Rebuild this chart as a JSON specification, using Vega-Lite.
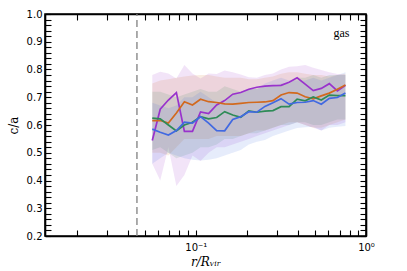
{
  "$schema": "https://vega.github.io/schema/vega-lite/v6.json",
  "width": 321,
  "height": 222,
  "autosize": "none",
  "padding": {"left": 45, "top": 14, "right": 41, "bottom": 35},
  "background": "white",
  "config": {
    "view": {"stroke": "#000000", "strokeWidth": 1.6},
    "axis": {
      "grid": false,
      "domainColor": "#000000",
      "domainWidth": 1.6,
      "tickColor": "#000000",
      "tickWidth": 1.1,
      "labelColor": "#000000",
      "labelFont": "DejaVu Sans",
      "labelFontSize": 10,
      "labelOverlap": false,
      "labelFlush": false,
      "titleColor": "#000000",
      "titleFontWeight": "normal"
    }
  },
  "datasets": {
    "prof": [
      {"series": "purple", "r": 0.0555, "v": 0.544, "lo": 0.46, "hi": 0.78},
      {"series": "purple", "r": 0.0618, "v": 0.657, "lo": 0.40, "hi": 0.792},
      {"series": "purple", "r": 0.0690, "v": 0.690, "lo": 0.52, "hi": 0.786},
      {"series": "purple", "r": 0.0769, "v": 0.717, "lo": 0.38, "hi": 0.768},
      {"series": "purple", "r": 0.0857, "v": 0.577, "lo": 0.42, "hi": 0.816},
      {"series": "purple", "r": 0.0956, "v": 0.577, "lo": 0.49, "hi": 0.786},
      {"series": "purple", "r": 0.1066, "v": 0.647, "lo": 0.47, "hi": 0.768},
      {"series": "purple", "r": 0.1189, "v": 0.641, "lo": 0.50, "hi": 0.786},
      {"series": "purple", "r": 0.1326, "v": 0.672, "lo": 0.52, "hi": 0.784},
      {"series": "purple", "r": 0.1478, "v": 0.688, "lo": 0.52, "hi": 0.796},
      {"series": "purple", "r": 0.1648, "v": 0.711, "lo": 0.53, "hi": 0.79},
      {"series": "purple", "r": 0.1837, "v": 0.717, "lo": 0.54, "hi": 0.782},
      {"series": "purple", "r": 0.2049, "v": 0.729, "lo": 0.55, "hi": 0.772},
      {"series": "purple", "r": 0.2284, "v": 0.736, "lo": 0.56, "hi": 0.77},
      {"series": "purple", "r": 0.2547, "v": 0.740, "lo": 0.57, "hi": 0.78},
      {"series": "purple", "r": 0.2840, "v": 0.742, "lo": 0.58, "hi": 0.786},
      {"series": "purple", "r": 0.3167, "v": 0.743, "lo": 0.59, "hi": 0.80},
      {"series": "purple", "r": 0.3532, "v": 0.754, "lo": 0.60, "hi": 0.81},
      {"series": "purple", "r": 0.3938, "v": 0.770, "lo": 0.61, "hi": 0.812},
      {"series": "purple", "r": 0.4391, "v": 0.747, "lo": 0.60, "hi": 0.816},
      {"series": "purple", "r": 0.4898, "v": 0.724, "lo": 0.59, "hi": 0.806},
      {"series": "purple", "r": 0.5461, "v": 0.732, "lo": 0.58, "hi": 0.798},
      {"series": "purple", "r": 0.6089, "v": 0.749, "lo": 0.60, "hi": 0.79},
      {"series": "purple", "r": 0.6790, "v": 0.723, "lo": 0.60, "hi": 0.784},
      {"series": "purple", "r": 0.7571, "v": 0.743, "lo": 0.61, "hi": 0.78},
      {"series": "orange", "r": 0.0555, "v": 0.616, "lo": 0.50, "hi": 0.75},
      {"series": "orange", "r": 0.0618, "v": 0.616, "lo": 0.50, "hi": 0.76},
      {"series": "orange", "r": 0.0690, "v": 0.607, "lo": 0.49, "hi": 0.765},
      {"series": "orange", "r": 0.0769, "v": 0.643, "lo": 0.52, "hi": 0.77},
      {"series": "orange", "r": 0.0857, "v": 0.684, "lo": 0.55, "hi": 0.775},
      {"series": "orange", "r": 0.0956, "v": 0.672, "lo": 0.55, "hi": 0.778},
      {"series": "orange", "r": 0.1066, "v": 0.693, "lo": 0.55, "hi": 0.78},
      {"series": "orange", "r": 0.1189, "v": 0.684, "lo": 0.55, "hi": 0.78},
      {"series": "orange", "r": 0.1326, "v": 0.681, "lo": 0.56, "hi": 0.775},
      {"series": "orange", "r": 0.1478, "v": 0.676, "lo": 0.56, "hi": 0.77},
      {"series": "orange", "r": 0.1648, "v": 0.675, "lo": 0.56, "hi": 0.77},
      {"series": "orange", "r": 0.1837, "v": 0.678, "lo": 0.56, "hi": 0.77},
      {"series": "orange", "r": 0.2049, "v": 0.681, "lo": 0.57, "hi": 0.765},
      {"series": "orange", "r": 0.2284, "v": 0.682, "lo": 0.58, "hi": 0.765},
      {"series": "orange", "r": 0.2547, "v": 0.683, "lo": 0.58, "hi": 0.77},
      {"series": "orange", "r": 0.2840, "v": 0.688, "lo": 0.59, "hi": 0.775},
      {"series": "orange", "r": 0.3167, "v": 0.708, "lo": 0.60, "hi": 0.785},
      {"series": "orange", "r": 0.3532, "v": 0.717, "lo": 0.61, "hi": 0.79},
      {"series": "orange", "r": 0.3938, "v": 0.715, "lo": 0.61, "hi": 0.79},
      {"series": "orange", "r": 0.4391, "v": 0.702, "lo": 0.60, "hi": 0.785},
      {"series": "orange", "r": 0.4898, "v": 0.694, "lo": 0.59, "hi": 0.78},
      {"series": "orange", "r": 0.5461, "v": 0.705, "lo": 0.59, "hi": 0.78},
      {"series": "orange", "r": 0.6089, "v": 0.715, "lo": 0.60, "hi": 0.775},
      {"series": "orange", "r": 0.6790, "v": 0.729, "lo": 0.61, "hi": 0.78},
      {"series": "orange", "r": 0.7571, "v": 0.744, "lo": 0.62, "hi": 0.785},
      {"series": "green", "r": 0.0555, "v": 0.625, "lo": 0.51, "hi": 0.72},
      {"series": "green", "r": 0.0618, "v": 0.622, "lo": 0.52, "hi": 0.72},
      {"series": "green", "r": 0.0690, "v": 0.600, "lo": 0.50, "hi": 0.71},
      {"series": "green", "r": 0.0769, "v": 0.579, "lo": 0.48, "hi": 0.70},
      {"series": "green", "r": 0.0857, "v": 0.600, "lo": 0.49, "hi": 0.71},
      {"series": "green", "r": 0.0956, "v": 0.610, "lo": 0.50, "hi": 0.72},
      {"series": "green", "r": 0.1066, "v": 0.630, "lo": 0.52, "hi": 0.73},
      {"series": "green", "r": 0.1189, "v": 0.622, "lo": 0.52, "hi": 0.72},
      {"series": "green", "r": 0.1326, "v": 0.627, "lo": 0.53, "hi": 0.72},
      {"series": "green", "r": 0.1478, "v": 0.648, "lo": 0.55, "hi": 0.74},
      {"series": "green", "r": 0.1648, "v": 0.636, "lo": 0.55, "hi": 0.73},
      {"series": "green", "r": 0.1837, "v": 0.628, "lo": 0.56, "hi": 0.72},
      {"series": "green", "r": 0.2049, "v": 0.651, "lo": 0.57, "hi": 0.73},
      {"series": "green", "r": 0.2284, "v": 0.646, "lo": 0.57, "hi": 0.73},
      {"series": "green", "r": 0.2547, "v": 0.650, "lo": 0.58, "hi": 0.74},
      {"series": "green", "r": 0.2840, "v": 0.652, "lo": 0.59, "hi": 0.74},
      {"series": "green", "r": 0.3167, "v": 0.666, "lo": 0.60, "hi": 0.75},
      {"series": "green", "r": 0.3532, "v": 0.666, "lo": 0.60, "hi": 0.75},
      {"series": "green", "r": 0.3938, "v": 0.693, "lo": 0.61, "hi": 0.77},
      {"series": "green", "r": 0.4391, "v": 0.687, "lo": 0.61, "hi": 0.77},
      {"series": "green", "r": 0.4898, "v": 0.701, "lo": 0.60, "hi": 0.78},
      {"series": "green", "r": 0.5461, "v": 0.690, "lo": 0.60, "hi": 0.77},
      {"series": "green", "r": 0.6089, "v": 0.708, "lo": 0.61, "hi": 0.78},
      {"series": "green", "r": 0.6790, "v": 0.706, "lo": 0.62, "hi": 0.78},
      {"series": "green", "r": 0.7571, "v": 0.706, "lo": 0.62, "hi": 0.78},
      {"series": "blue", "r": 0.0555, "v": 0.585, "lo": 0.46, "hi": 0.68},
      {"series": "blue", "r": 0.0618, "v": 0.574, "lo": 0.48, "hi": 0.67},
      {"series": "blue", "r": 0.0690, "v": 0.564, "lo": 0.50, "hi": 0.66},
      {"series": "blue", "r": 0.0769, "v": 0.580, "lo": 0.49, "hi": 0.67},
      {"series": "blue", "r": 0.0857, "v": 0.610, "lo": 0.48, "hi": 0.70},
      {"series": "blue", "r": 0.0956, "v": 0.607, "lo": 0.475, "hi": 0.70},
      {"series": "blue", "r": 0.1066, "v": 0.630, "lo": 0.472, "hi": 0.72},
      {"series": "blue", "r": 0.1189, "v": 0.607, "lo": 0.475, "hi": 0.70},
      {"series": "blue", "r": 0.1326, "v": 0.580, "lo": 0.48, "hi": 0.68},
      {"series": "blue", "r": 0.1478, "v": 0.579, "lo": 0.49, "hi": 0.68},
      {"series": "blue", "r": 0.1648, "v": 0.620, "lo": 0.50, "hi": 0.71},
      {"series": "blue", "r": 0.1837, "v": 0.630, "lo": 0.51, "hi": 0.72},
      {"series": "blue", "r": 0.2049, "v": 0.648, "lo": 0.53, "hi": 0.73},
      {"series": "blue", "r": 0.2284, "v": 0.646, "lo": 0.54, "hi": 0.73},
      {"series": "blue", "r": 0.2547, "v": 0.667, "lo": 0.546, "hi": 0.75},
      {"series": "blue", "r": 0.2840, "v": 0.680, "lo": 0.56, "hi": 0.76},
      {"series": "blue", "r": 0.3167, "v": 0.695, "lo": 0.57, "hi": 0.77},
      {"series": "blue", "r": 0.3532, "v": 0.675, "lo": 0.58, "hi": 0.76},
      {"series": "blue", "r": 0.3938, "v": 0.681, "lo": 0.589, "hi": 0.76},
      {"series": "blue", "r": 0.4391, "v": 0.682, "lo": 0.592, "hi": 0.76},
      {"series": "blue", "r": 0.4898, "v": 0.688, "lo": 0.594, "hi": 0.77},
      {"series": "blue", "r": 0.5461, "v": 0.675, "lo": 0.58, "hi": 0.76},
      {"series": "blue", "r": 0.6089, "v": 0.696, "lo": 0.59, "hi": 0.77},
      {"series": "blue", "r": 0.6790, "v": 0.699, "lo": 0.594, "hi": 0.78},
      {"series": "blue", "r": 0.7571, "v": 0.715, "lo": 0.596, "hi": 0.79}
    ]
  },
  "layer": [
    {
      "data": {"name": "prof"},
      "mark": {"type": "area", "opacity": 0.13, "interpolate": "linear"},
      "encoding": {
        "x": {
          "field": "r", "type": "quantitative",
          "scale": {"type": "log", "domain": [0.013, 1], "nice": false},
          "axis": {
            "orient": "bottom",
            "title": "r/Rᵥᵢᵣ",
            "titleFont": "DejaVu Serif",
            "titleFontStyle": "italic",
            "titleFontSize": 12,
            "titlePadding": 4,
            "values": [0.02, 0.03, 0.04, 0.05, 0.06, 0.07, 0.08, 0.09, 0.1, 0.2, 0.3, 0.4, 0.5, 0.6, 0.7, 0.8, 0.9, 1],
            "labelExpr": "datum.value == 1 ? '10⁰' : (datum.value == 0.1 ? '10⁻¹' : '')",
            "tickSize": -6,
            "labelPadding": 12,
            "encode": {"ticks": {"update": {"y2": {"signal": "(datum.value == 1 || datum.value == 0.1) ? -6 : -3.5"}}}}
          }
        },
        "y": {
          "field": "lo", "type": "quantitative", "stack": null,
          "scale": {"domain": [0.2, 1.0], "nice": false, "zero": false},
          "axis": {
            "orient": "left",
            "title": "c/a",
            "titleFont": "DejaVu Serif",
            "titleFontSize": 12,
            "titlePadding": 6,
            "values": [0.2, 0.22, 0.24, 0.26, 0.28, 0.3, 0.32, 0.34, 0.36, 0.38, 0.4, 0.42, 0.44, 0.46, 0.48, 0.5, 0.52, 0.54, 0.56, 0.58, 0.6, 0.62, 0.64, 0.66, 0.68, 0.7, 0.72, 0.74, 0.76, 0.78, 0.8, 0.82, 0.84, 0.86, 0.88, 0.9, 0.92, 0.94, 0.96, 0.98, 1.0],
            "labelExpr": "abs(datum.value*10 - round(datum.value*10)) < 0.001 ? format(datum.value, '.1f') : ''",
            "tickSize": -6,
            "labelPadding": 9,
            "encode": {"ticks": {"update": {"x2": {"signal": "abs(datum.value*10 - round(datum.value*10)) < 0.001 ? 6 : 3.5"}}}}
          }
        },
        "y2": {"field": "hi"},
        "color": {
          "field": "series", "type": "nominal",
          "scale": {"domain": ["blue", "green", "orange", "purple"], "range": ["#4169E1", "#2E8B57", "#D2691E", "#9932CC"]},
          "legend": null
        }
      }
    },
    {
      "data": {"name": "prof"},
      "mark": {"type": "line", "strokeWidth": 1.7},
      "encoding": {
        "x": {
          "field": "r", "type": "quantitative",
          "axis": {
            "orient": "top", "title": null, "labels": false,
            "values": [0.02, 0.03, 0.04, 0.05, 0.06, 0.07, 0.08, 0.09, 0.1, 0.2, 0.3, 0.4, 0.5, 0.6, 0.7, 0.8, 0.9, 1],
            "tickSize": -6,
            "encode": {"ticks": {"update": {"y2": {"signal": "(datum.value == 1 || datum.value == 0.1) ? 6 : 3.5"}}}}
          }
        },
        "y": {
          "field": "v", "type": "quantitative",
          "axis": {
            "orient": "right", "title": null, "labels": false,
            "values": [0.2, 0.22, 0.24, 0.26, 0.28, 0.3, 0.32, 0.34, 0.36, 0.38, 0.4, 0.42, 0.44, 0.46, 0.48, 0.5, 0.52, 0.54, 0.56, 0.58, 0.6, 0.62, 0.64, 0.66, 0.68, 0.7, 0.72, 0.74, 0.76, 0.78, 0.8, 0.82, 0.84, 0.86, 0.88, 0.9, 0.92, 0.94, 0.96, 0.98, 1.0],
            "tickSize": -6,
            "encode": {"ticks": {"update": {"x2": {"signal": "abs(datum.value*10 - round(datum.value*10)) < 0.001 ? -6 : -3.5"}}}}
          }
        },
        "color": {"field": "series", "type": "nominal", "legend": null}
      }
    },
    {
      "data": {"values": [{"label": "cut"}]},
      "mark": {"type": "rule", "color": "#808080", "strokeWidth": 1.3, "strokeDash": [7, 4]},
      "encoding": {
        "x": {"datum": 0.0451, "type": "quantitative", "axis": null},
        "y": {"datum": 0.2, "type": "quantitative", "axis": null},
        "y2": {"datum": 1.0}
      }
    },
    {
      "data": {"values": [{"label": "gas"}]},
      "mark": {"type": "text", "font": "Liberation Serif", "fontSize": 12, "align": "right", "baseline": "middle", "color": "black"},
      "encoding": {
        "text": {"field": "label", "type": "nominal"},
        "x": {"datum": 0.80, "type": "quantitative", "axis": null},
        "y": {"datum": 0.932, "type": "quantitative", "axis": null}
      }
    }
  ],
  "resolve": {"axis": {"x": "independent", "y": "independent"}}
}
